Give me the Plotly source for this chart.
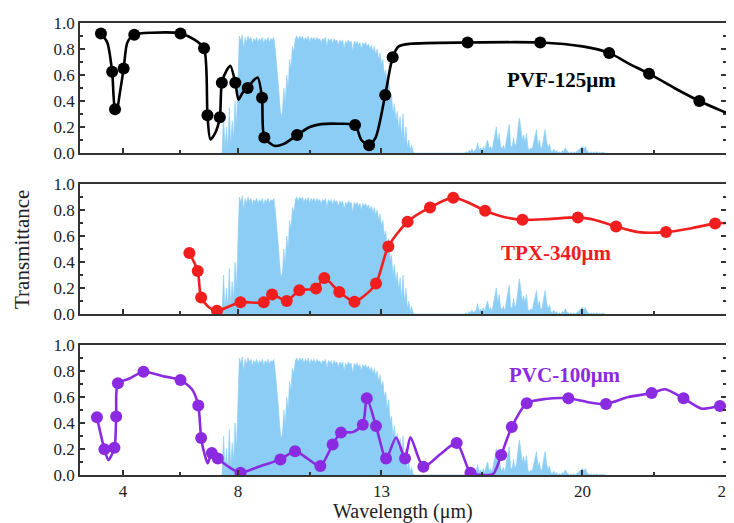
import plotly.graph_objects as go

# ---------------- data ----------------
# atmospheric window (blue), main band sampled every 0.05 um from 7.40
atm_band1_start = 7.40
atm_band1 = [0.00, 0.00, 0.30, 0.02, 0.20, 0.03, 0.35, 0.05, 0.25, 0.10,
             0.40, 0.20, 0.55, 0.90, 0.86, 0.91, 0.80, 0.89, 0.85, 0.90,
             0.87, 0.89, 0.84, 0.88, 0.86, 0.89, 0.85, 0.88, 0.86, 0.89,
             0.84, 0.88, 0.86, 0.89, 0.85, 0.88, 0.87, 0.89, 0.80, 0.70,
             0.55, 0.40, 0.28, 0.32, 0.50, 0.38, 0.60, 0.50, 0.72, 0.65,
             0.82, 0.78, 0.88, 0.90, 0.87, 0.90, 0.88, 0.90, 0.86, 0.89,
             0.87, 0.90, 0.85, 0.89, 0.87, 0.89, 0.86, 0.89, 0.87, 0.88,
             0.85, 0.88, 0.87, 0.89, 0.82, 0.88, 0.86, 0.88, 0.84, 0.88,
             0.86, 0.87, 0.83, 0.87, 0.85, 0.87, 0.80, 0.86, 0.84, 0.87,
             0.85, 0.86, 0.78, 0.86, 0.84, 0.86, 0.83, 0.85, 0.80, 0.85,
             0.83, 0.85, 0.82, 0.84, 0.80, 0.83, 0.78, 0.82, 0.76, 0.80,
             0.72, 0.77, 0.68, 0.72, 0.60, 0.64, 0.50, 0.58, 0.42, 0.45,
             0.30, 0.38, 0.25, 0.32, 0.18, 0.28, 0.12, 0.30, 0.08, 0.20,
             0.04, 0.10, 0.02, 0.06, 0.01, 0.00]
# second (weak) band sampled every 0.05 um from 15.90
atm_band2_start = 15.90
atm_band2 = [0.00, 0.01, 0.00, 0.02, 0.01, 0.03, 0.01, 0.02, 0.03, 0.08,
             0.02, 0.04, 0.02, 0.05, 0.02, 0.07, 0.10, 0.03, 0.05, 0.02,
             0.08, 0.12, 0.20, 0.08, 0.15, 0.05, 0.03, 0.06, 0.02, 0.10,
             0.15, 0.22, 0.06, 0.04, 0.12, 0.05, 0.08, 0.18, 0.27, 0.20,
             0.10, 0.14, 0.08, 0.15, 0.04, 0.02, 0.04, 0.03, 0.08, 0.12,
             0.18, 0.06, 0.10, 0.03, 0.05, 0.12, 0.18, 0.09, 0.04, 0.07,
             0.02, 0.01, 0.03, 0.01, 0.02, 0.00, 0.01, 0.00, 0.02, 0.01,
             0.04, 0.02, 0.01, 0.00, 0.01, 0.00, 0.01, 0.00, 0.01, 0.02,
             0.03, 0.04, 0.05, 0.03, 0.05, 0.02, 0.01, 0.00, 0.01, 0.00,
             0.01, 0.00, 0.01, 0.00, 0.005, 0.00, 0.005, 0.00, 0.00]

# PVF-125um
pvf_line_x = [3.23, 3.45, 3.62, 3.72, 3.78, 3.88, 4.02, 4.15, 4.39, 5.0, 6.0, 6.5, 6.82, 6.94,
              7.04, 7.2, 7.37, 7.44, 7.62, 7.74, 7.91, 8.02, 8.15, 8.34, 8.55, 8.69, 8.84, 8.92,
              9.27, 9.6, 10.06, 10.5, 10.9, 11.5, 12.08, 12.3, 12.57, 12.8, 13.13, 13.39, 13.6,
              14.0, 16.0, 18.53, 20.0, 20.93, 21.6, 22.32, 23.2, 24.07, 25.0]
pvf_line_y = [0.92, 0.85, 0.625, 0.336, 0.33, 0.45, 0.65, 0.85, 0.91, 0.925, 0.92, 0.87, 0.805, 0.29,
              0.105, 0.15, 0.275, 0.54, 0.64, 0.67, 0.54, 0.41, 0.46, 0.50, 0.56, 0.58, 0.425, 0.12,
              0.055, 0.07, 0.138, 0.20, 0.222, 0.225, 0.215, 0.10, 0.06, 0.12, 0.446, 0.736, 0.82,
              0.84, 0.85, 0.85, 0.82, 0.77, 0.69, 0.61, 0.50, 0.40, 0.31]
pvf_mark_x = [3.23, 3.62, 3.72, 4.02, 4.39, 6.0, 6.82, 6.94, 7.37, 7.44, 7.91, 8.34, 8.84, 8.92,
              10.06, 12.08, 12.57, 13.13, 13.39, 16.0, 18.53, 20.93, 22.32, 24.07]
pvf_mark_y = [0.92, 0.625, 0.336, 0.65, 0.91, 0.92, 0.805, 0.29, 0.275, 0.54, 0.54, 0.50, 0.425, 0.12,
              0.138, 0.215, 0.06, 0.446, 0.736, 0.85, 0.85, 0.77, 0.61, 0.40]

# TPX-340um
tpx_line_x = [6.31, 6.60, 6.72, 7.0, 7.27, 8.09, 8.90, 9.19, 9.70, 10.14, 10.72, 11.01, 11.53,
              12.06, 12.4, 12.81, 13.24, 13.91, 14.69, 15.50, 16.0, 16.61, 17.2, 17.91, 18.8,
              19.84, 20.5, 21.17, 21.95, 22.91, 23.8, 24.62, 25.0]
tpx_line_y = [0.47, 0.33, 0.127, 0.05, 0.025, 0.09, 0.09, 0.15, 0.10, 0.183, 0.196, 0.277, 0.17,
              0.094, 0.14, 0.234, 0.52, 0.71, 0.82, 0.895, 0.86, 0.794, 0.75, 0.725, 0.73,
              0.743, 0.72, 0.674, 0.63, 0.63, 0.66, 0.697, 0.70]
tpx_mark_x = [6.31, 6.60, 6.72, 7.27, 8.09, 8.90, 9.19, 9.70, 10.14, 10.72, 11.01, 11.53, 12.06,
              12.81, 13.24, 13.91, 14.69, 15.50, 16.61, 17.91, 19.84, 21.17, 22.91, 24.62]
tpx_mark_y = [0.47, 0.33, 0.127, 0.025, 0.09, 0.09, 0.15, 0.10, 0.183, 0.196, 0.277, 0.17, 0.094,
              0.234, 0.52, 0.71, 0.82, 0.895, 0.794, 0.725, 0.743, 0.674, 0.63, 0.697]

# PVC-100um
pvc_line_x = [3.09, 3.35, 3.49, 3.70, 3.76, 3.82, 4.2, 4.71, 5.4, 6.0, 6.4, 6.62, 6.72, 6.85, 6.95,
              7.09, 7.30, 7.7, 8.09, 8.8, 9.48, 9.99, 10.4, 10.87, 11.30, 11.59, 12.0, 12.35, 12.49,
              12.81, 13.16, 13.51, 13.82, 14.01, 14.46, 15.05, 15.62, 16.1, 16.5, 16.9, 17.17,
              17.54, 18.06, 18.7, 19.51, 20.2, 20.82, 21.6, 22.41, 22.88, 23.52, 24.16, 24.79, 25.0]
pvc_line_y = [0.445, 0.198, 0.115, 0.21, 0.45, 0.705, 0.74, 0.794, 0.76, 0.73, 0.66, 0.534, 0.285,
              0.15, 0.09, 0.17, 0.127, 0.06, 0.018, 0.07, 0.12, 0.183, 0.13, 0.069, 0.234, 0.326,
              0.33, 0.387, 0.59, 0.376, 0.127, 0.288, 0.127, 0.29, 0.063, 0.16, 0.247, 0.018, 0.0,
              0.01, 0.153, 0.37, 0.552, 0.585, 0.59, 0.56, 0.547, 0.60, 0.63, 0.66, 0.59, 0.51,
              0.53, 0.53]
pvc_mark_x = [3.09, 3.35, 3.70, 3.76, 3.82, 4.71, 6.0, 6.62, 6.72, 7.09, 7.30, 8.09, 9.48, 9.99,
              10.87, 11.30, 11.59, 12.35, 12.49, 12.81, 13.16, 13.82, 14.46, 15.62, 16.1, 17.17,
              17.54, 18.06, 19.51, 20.82, 22.41, 23.52, 24.79]
pvc_mark_y = [0.445, 0.198, 0.21, 0.45, 0.705, 0.794, 0.73, 0.534, 0.285, 0.17, 0.127, 0.018, 0.12,
              0.183, 0.069, 0.234, 0.326, 0.387, 0.59, 0.376, 0.127, 0.127, 0.063, 0.247, 0.018,
              0.153, 0.37, 0.552, 0.59, 0.547, 0.63, 0.59, 0.53]

x_tickvals = [4, 8, 13, 20, 25]
x_minor = [6, 10.5, 16.5, 22.5]
y_tickvals = [0.0, 0.2, 0.4, 0.6, 0.8, 1.0]
y_ticktext = ["0.0", "0.2", "0.4", "0.6", "0.8", "1.0"]
y_minor = [0.1, 0.3, 0.5, 0.7, 0.9]

series = [
    ("PVF-125\u03bcm", "#000000", pvf_line_x, pvf_line_y, pvf_mark_x, pvf_mark_y),
    ("TPX-340\u03bcm", "#f01e1e", tpx_line_x, tpx_line_y, tpx_mark_x, tpx_mark_y),
    ("PVC-100\u03bcm", "#8a2be2", pvc_line_x, pvc_line_y, pvc_mark_x, pvc_mark_y),
]

# ---------------- figure ----------------
atm_x = [round(atm_band1_start + 0.05 * i, 2) for i in range(len(atm_band1))] + \
        [round(atm_band2_start + 0.05 * i, 2) for i in range(len(atm_band2))]
atm_y = atm_band1 + atm_band2

fig = go.Figure()
domains = [(0.7124, 1.0), (0.3562, 0.6438), (0.0, 0.2876)]
blue = "#8ccdf5"
FONT = "Liberation Serif, Times New Roman, serif"

for i, (name, col, lx, ly, mx, my) in enumerate(series):
    k = "" if i == 0 else str(i + 1)
    fig.add_trace(go.Scatter(x=atm_x, y=atm_y, mode="lines", fill="tozeroy",
                             line=dict(color=blue, width=0.6), fillcolor=blue,
                             xaxis="x" + k, yaxis="y" + k, showlegend=False, hoverinfo="skip"))
    fig.add_trace(go.Scatter(x=lx, y=ly, mode="lines",
                             line=dict(color=col, width=2.6, shape="spline", smoothing=0.7),
                             xaxis="x" + k, yaxis="y" + k, showlegend=False))
    fig.add_trace(go.Scatter(x=mx, y=my, mode="markers",
                             marker=dict(color=col, size=12),
                             xaxis="x" + k, yaxis="y" + k, showlegend=False))

axis_common = dict(showline=True, linecolor="#333333", linewidth=1.5, showgrid=False,
                   zeroline=False, ticks="inside", tickcolor="#333333", automargin=False,
                   tickfont=dict(family=FONT, size=17, color="#222222"))
for i in range(3):
    k = "" if i == 0 else str(i + 1)
    fig.update_layout({
        "xaxis" + k: dict(axis_common, range=[2.5, 25], domain=[0, 1], anchor="y" + k,
                          mirror=True, tickmode="array", tickvals=x_tickvals,
                          ticklen=5, tickwidth=1.5, showticklabels=(i == 2),
                          minor=dict(tickmode="array", tickvals=x_minor, ticks="inside",
                                     ticklen=3, tickcolor="#333333")),
        "yaxis" + k: dict(axis_common, range=[0, 1.0], domain=list(domains[i]), anchor="x" + k,
                          mirror="ticks", tickmode="array", tickvals=y_tickvals,
                          ticktext=y_ticktext, ticklen=5, tickwidth=1.5,
                          minor=dict(tickmode="array", tickvals=y_minor, ticks="inside",
                                     ticklen=3, tickcolor="#333333")),
    })

label_pos = [(0.745, 0.874), (0.737, 0.491), (0.751, 0.221)]
annotations = []
for (name, col, *_), (ax, ay) in zip(series, label_pos):
    annotations.append(dict(text="<b>" + name + "</b>", x=ax, y=ay, xref="paper", yref="paper",
                            showarrow=False, xanchor="center", yanchor="middle",
                            font=dict(family=FONT, size=21, color=col)))
annotations.append(dict(text="Transmittance", x=-0.0898, y=0.5, xref="paper", yref="paper",
                        showarrow=False, textangle=-90, xanchor="center", yanchor="middle",
                        font=dict(family=FONT, size=21, color="#222222")))
annotations.append(dict(text="Wavelength (\u03bcm)", x=0.5, y=-0.081, xref="paper", yref="paper",
                        showarrow=False, xanchor="center", yanchor="middle",
                        font=dict(family=FONT, size=20, color="#222222")))

# page body has an 8px default margin, so margins are reduced by 8px on the top/left
fig.update_layout(width=734, height=523, margin=dict(l=72, r=16, t=15, b=56, autoexpand=False),
                  paper_bgcolor="white", plot_bgcolor="white",
                  annotations=annotations, showlegend=False)

fig.write_html("out.html")
